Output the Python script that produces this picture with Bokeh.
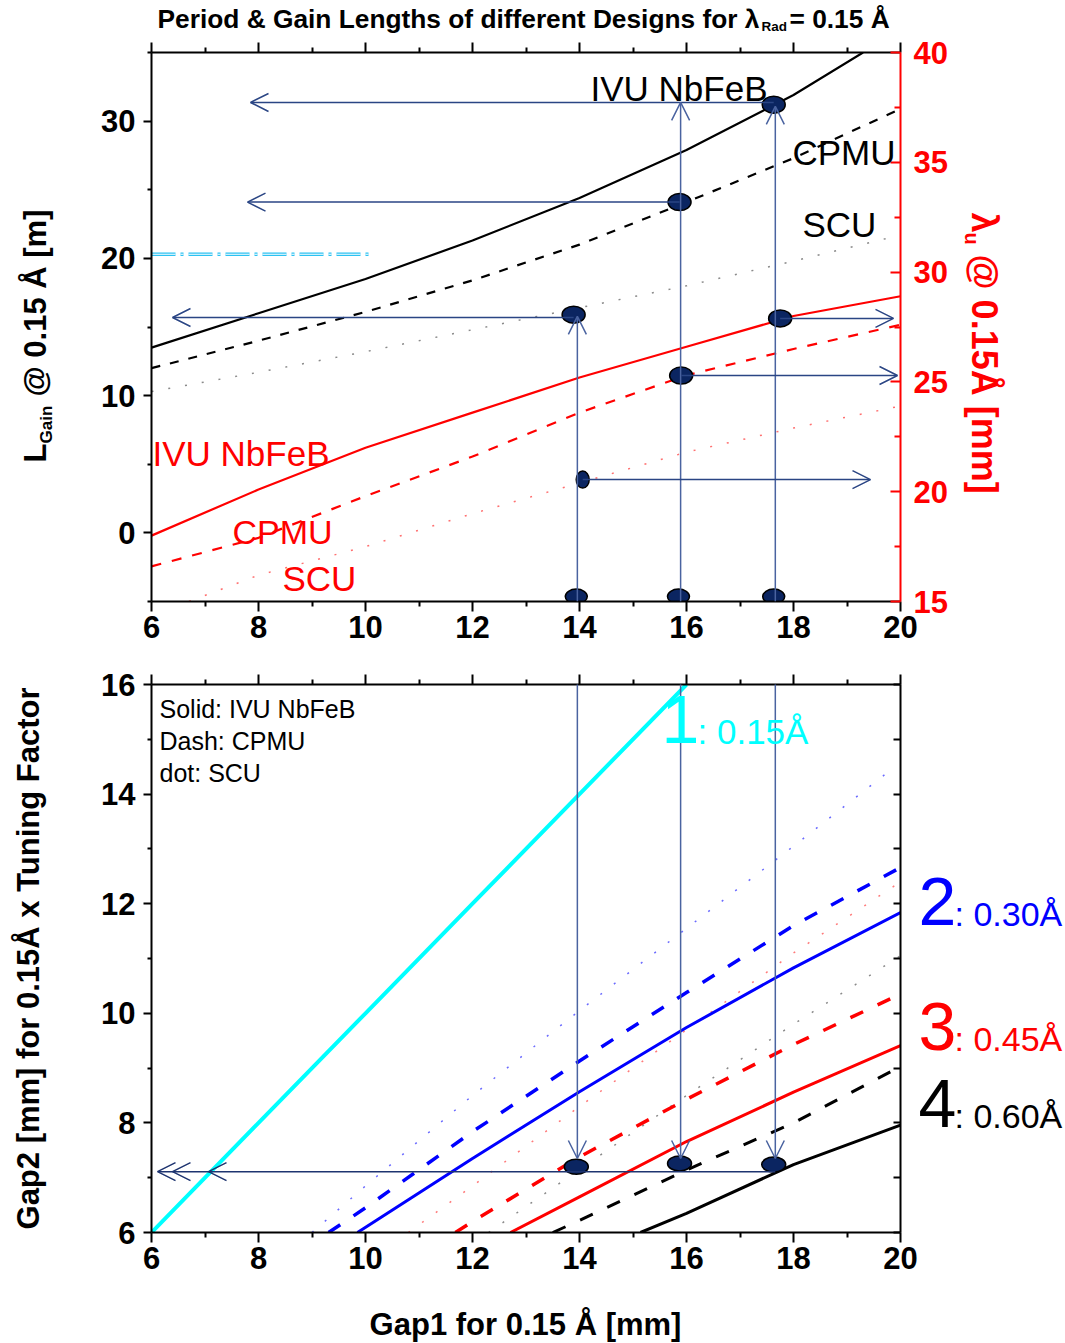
import math
from bokeh.plotting import figure
from bokeh.models import Range1d, LinearAxis, FixedTicker, Label, Arrow, OpenHead
from bokeh.layouts import column, row
from bokeh.embed import file_html
from bokeh.resources import INLINE

FONT = "Liberation Sans"

# ---------------- data: top panel (gain length, left axis) ----------------
gap1_top = [6, 8, 10, 12, 14, 16, 18, 20]
lgain_ivu_x = [6, 8, 10, 12, 14, 16, 18, 19.3]
lgain_ivu = [13.5, 16.0, 18.5, 21.3, 24.4, 27.9, 31.9, 35.0]
lgain_cpmu = [12.0, 14.0, 16.1, 18.4, 21.0, 24.1, 27.3, 30.9]
lgain_scu = [10.3, 11.7, 13.2, 14.8, 16.4, 18.0, 19.8, 21.7]
# period (right axis, mm)
lam_ivu = [18.0, 20.1, 22.0, 23.6, 25.2, 26.6, 28.0, 28.9]
lam_cpmu = [16.6, 17.9, 19.8, 21.6, 23.6, 25.3, 26.5, 27.6]
lam_scu_x = [6.7, 8, 10, 12, 14, 16, 18, 20]
lam_scu = [15.0, 16.2, 17.5, 19.0, 20.4, 21.8, 22.9, 23.9]
ref_gain_x = [6, 10.1]
ref_gain_y = [20.3, 20.3]

# design points
pt_gain_x = [17.63, 15.87, 13.89]
pt_gain_y = [31.2, 24.1, 15.9]
pt_lam_x = [17.75, 15.9]
pt_lam_y = [27.89, 25.29]
pt_lam_scu_x = [14.06]
pt_lam_scu_y = [20.55]
pt_gap_x = [13.94, 15.85, 17.63]
pt_gap_y = [-4.64, -4.64, -4.64]

# ---------------- data: bottom panel (Gap2) ----------------
h1_x = [6, 8, 10, 12, 14, 16]
h1_y = [6, 8, 10, 12, 14, 16]
h2s_x = [9.85, 12, 14, 16, 18, 20]
h2s_y = [6.0, 7.35, 8.57, 9.74, 10.83, 11.84]
h2d_x = [9.31, 10, 12, 14, 16, 18, 20]
h2d_y = [6.0, 6.45, 7.84, 9.13, 10.38, 11.60, 12.66]
h2o_x = [9.0, 10, 12, 14, 16, 18, 19.7]
h2o_y = [6.0, 6.85, 8.5, 10.05, 11.55, 13.05, 14.35]
h3s_x = [12.71, 14, 16, 18, 20]
h3s_y = [6.0, 6.65, 7.66, 8.56, 9.41]
h3d_x = [11.68, 12, 14, 16, 18, 20]
h3d_y = [6.0, 6.2, 7.38, 8.43, 9.43, 10.35]
h3o_x = [10.8, 12, 14, 16, 18, 20]
h3o_y = [6.0, 6.85, 8.3, 9.7, 11.1, 12.4]
h4s_x = [15.14, 16, 18, 20]
h4s_y = [6.0, 6.35, 7.24, 7.96]
h4d_x = [13.5, 14, 16, 18, 20]
h4d_y = [6.0, 6.22, 7.14, 8.0, 9.03]
h4o_x = [12.3, 14, 16, 18, 20]
h4o_y = [6.0, 7.15, 8.5, 9.8, 11.05]
pt_gap2_x = [13.94, 15.87, 17.63]
pt_gap2_y = [7.2, 7.26, 7.24]
gap2_target = 7.11

x_ticks = [6, 8, 10, 12, 14, 16, 18, 20]
x_minor = [7, 9, 11, 13, 15, 17, 19]

NAVY = "#0B2561"
ALINE = "#2A4584"
VLINE = "#4A63A0"
MID = 0.347  # distance (in em) from the alphabetic baseline up to the em-box middle


# absolute page pixel -> data helpers (for text / annotation placement)
def X(px):
    return 6 + (px - 151) * 14 / 749


def Y1(py):
    return 35 - (py - 52) * 40 / 549


def Y2(py):
    return 16 - (py - 684) * 10 / 548


def ident(v):
    return v


def style_axis(ax, ticks, minor, color="black", t_in=0, t_out=10, m_in=0, m_out=5,
               standoff=4, labels=True):
    ax.ticker = FixedTicker(ticks=ticks, minor_ticks=minor)
    ax.axis_line_color = color
    ax.axis_line_width = 2
    ax.major_tick_line_color = color
    ax.major_tick_line_width = 2
    ax.minor_tick_line_color = color
    ax.minor_tick_line_width = 2
    ax.major_tick_in = t_in
    ax.major_tick_out = t_out
    ax.minor_tick_in = m_in
    ax.minor_tick_out = m_out
    ax.major_label_text_font = FONT
    ax.major_label_text_font_style = "bold"
    ax.major_label_text_color = color
    if labels:
        ax.major_label_text_font_size = "31px"
        ax.major_label_standoff = standoff
    else:
        ax.major_label_text_font_size = "0px"
        ax.major_label_standoff = 0
        ax.major_label_overrides = {t: "" for t in ticks}


def lab(p, px, py, text, size, color="black", bold=False, angle=0.0, align="left",
        xconv=X, yconv=Y1):
    """Place text whose alphabetic baseline starts at page pixel (px, py)."""
    s = MID * size
    ax_ = px - s * math.sin(angle)
    ay_ = py - s * math.cos(angle)
    p.add_layout(Label(x=xconv(ax_), y=yconv(ay_), text=text, text_font=FONT,
                       text_font_size=f"{size}px", text_color=color,
                       text_font_style="bold" if bold else "normal",
                       angle=angle, text_align=align, text_baseline="middle"))


def arrow(p, x0, y0, x1, y1, color=ALINE, head=True, yname="default", size=18):
    p.add_layout(Arrow(x_start=x0, y_start=y0, x_end=x1, y_end=y1, line_color=color,
                       line_width=1.5,
                       end=OpenHead(size=size, line_color=color, line_width=1.5) if head else None,
                       y_range_name=yname))


def text_box(x0, y0, w, h):
    """A bare figure used as a text area; data units = absolute page pixels."""
    f = figure(frame_width=w, frame_height=h, x_range=Range1d(x0, x0 + w),
               y_range=Range1d(y0 + h, y0),
               output_backend="svg", toolbar_location=None,
               x_axis_location=None, y_axis_location=None, min_border=0,
               frame_align=False)
    f.title = None
    f.outline_line_color = None
    f.background_fill_color = "white"
    f.border_fill_color = "white"
    f.grid.visible = False
    return f


def new_panel(w, h, yr, left, right, top, bottom):
    p = figure(width=w, height=h, x_range=Range1d(6, 20), y_range=yr,
               output_backend="svg", toolbar_location=None,
               min_border_left=left, min_border_right=right,
               min_border_top=top, min_border_bottom=bottom)
    p.title = None
    p.outline_line_color = None
    p.xgrid.visible = False
    p.ygrid.visible = False
    p.background_fill_color = "white"
    p.border_fill_color = "white"
    return p


# =================== title strip ===================
T = text_box(0, 0, 1064, 34)
lab(T, 157, 28, "Period & Gain Lengths of different Designs for λ", 26.3, bold=True,
    xconv=ident, yconv=ident)
lab(T, 761, 31, "Rad", 13.5, bold=True, xconv=ident, yconv=ident)
lab(T, 789, 28, "= 0.15 Å", 26.3, bold=True, xconv=ident, yconv=ident)

# =================== top panel ===================
L1 = text_box(0, 34, 60, 632)
p1 = new_panel(900, 632, Range1d(-5, 35), left=91, right=60, top=18, bottom=65)
R1 = text_box(960, 34, 104, 632)
p1.extra_y_ranges = {"lam": Range1d(15, 40)}

style_axis(p1.xaxis[0], x_ticks, x_minor, t_out=10, m_out=5, standoff=4)
style_axis(p1.yaxis[0], [0, 10, 20, 30], [-5, 5, 15, 25, 35], t_out=8, m_out=4, standoff=8)
top1 = LinearAxis()
style_axis(top1, x_ticks, x_minor, t_out=10, m_out=5, labels=False)
p1.add_layout(top1, "above")
right1 = LinearAxis(y_range_name="lam")
style_axis(right1, [15, 20, 25, 30, 35, 40], [17.5, 22.5, 27.5, 32.5, 37.5], color="#FF0000",
           t_in=10, t_out=0, m_in=6, m_out=0, standoff=13)
p1.add_layout(right1, "right")

# reference gain line (double dash-dot)
p1.line(ref_gain_x, ref_gain_y, line_color="#2CC2F2", line_width=3.5, line_dash="24 5 3 5")
p1.line(ref_gain_x, ref_gain_y, line_color="white", line_width=1.2, line_dash="24 5 3 5")

p1.line(lgain_ivu_x, lgain_ivu, line_color="black", line_width=2.2)
p1.line(gap1_top, lgain_cpmu, line_color="black", line_width=2.2, line_dash="9 10")
p1.line(gap1_top, lgain_scu, line_color="#8a8a8a", line_width=1.5, line_dash="2 15")
p1.line(gap1_top, lam_ivu, line_color="#FF0000", line_width=2.2, y_range_name="lam")
p1.line(gap1_top, lam_cpmu, line_color="#FF0000", line_width=2.2, line_dash="10 11", y_range_name="lam")
p1.line(lam_scu_x, lam_scu, line_color="#FF7070", line_width=1.5, line_dash="2 15", y_range_name="lam")

# arrows: leftwards to gain axis
arrow(p1, pt_gain_x[0], 31.36, X(250), 31.36)
arrow(p1, pt_gain_x[1], pt_gain_y[1], X(247), pt_gain_y[1])
arrow(p1, pt_gain_x[2], 15.69, X(172), 15.69)
# vertical lines up from the gap axis
arrow(p1, 13.96, -5, 13.96, 15.77, color=VLINE)
arrow(p1, 15.89, -5, 15.89, 31.36, color=VLINE)
arrow(p1, 17.66, -5, 17.66, 31.07, color=VLINE)
# arrows: rightwards to period axis
arrow(p1, pt_lam_x[0], pt_lam_y[0], X(893), pt_lam_y[0], yname="lam")
arrow(p1, pt_lam_x[1], pt_lam_y[1], X(897), pt_lam_y[1], yname="lam")
arrow(p1, pt_lam_scu_x[0], pt_lam_scu_y[0], X(870), pt_lam_scu_y[0], yname="lam")

# design points
p1.ellipse(pt_gain_x, pt_gain_y, width=23, height=17, width_units="screen", height_units="screen",
           fill_color=NAVY, line_color="black", line_width=1.5)
p1.ellipse(pt_lam_x, pt_lam_y, width=23, height=17, width_units="screen", height_units="screen",
           fill_color=NAVY, line_color="black", line_width=1.5, y_range_name="lam")
p1.ellipse(pt_lam_scu_x, pt_lam_scu_y, width=13, height=17, width_units="screen", height_units="screen",
           fill_color=NAVY, line_color="black", line_width=1.5, y_range_name="lam")
p1.ellipse(pt_gap_x, pt_gap_y, width=22, height=15, width_units="screen", height_units="screen",
           fill_color=NAVY, line_color="black", line_width=1.5)

# curve labels
lab(p1, 590, 100, "IVU NbFeB", 35)
lab(p1, 792, 164, "CPMU", 35)
lab(p1, 802, 236, "SCU", 35)
lab(p1, 152, 465, "IVU NbFeB", 35, color="#FF0000")
lab(p1, 232, 543, "CPMU", 34, color="#FF0000")
lab(p1, 282, 590, "SCU", 35, color="#FF0000")

# left axis title (rotated, with subscript)
lab(L1, 46, 462, "L", 31, bold=True, angle=math.pi / 2, xconv=ident, yconv=ident)
lab(L1, 52, 443, "Gain", 17, bold=True, angle=math.pi / 2, xconv=ident, yconv=ident)
lab(L1, 46, 396, "@ 0.15 Å [m]", 31, bold=True, angle=math.pi / 2, xconv=ident, yconv=ident)

# right axis title (rotated clockwise, with subscript)
lab(R1, 972, 212, "λ", 36, color="#FF0000", bold=True, angle=-math.pi / 2, xconv=ident, yconv=ident)
lab(R1, 965, 232, "u", 20, color="#FF0000", bold=True, angle=-math.pi / 2, xconv=ident, yconv=ident)
lab(R1, 972, 254, "@ 0.15Å [mm]", 36, color="#FF0000", bold=True, angle=-math.pi / 2,
    xconv=ident, yconv=ident)

# =================== bottom panel ===================
p2 = new_panel(918, 634, Range1d(6, 16), left=151, right=18, top=18, bottom=68)
R2 = text_box(918, 666, 146, 634)
B = text_box(0, 1300, 1064, 43)

style_axis(p2.xaxis[0], x_ticks, x_minor, t_out=10, m_out=5, standoff=4)
style_axis(p2.yaxis[0], [6, 8, 10, 12, 14, 16], [7, 9, 11, 13, 15], t_out=8, m_out=4, standoff=8)
ya = p2.yaxis[0]
ya.axis_label = "Gap2 [mm] for 0.15Å x Tuning Factor"
ya.axis_label_text_font = FONT
ya.axis_label_text_font_style = "bold"
ya.axis_label_text_font_size = "31px"
ya.axis_label_text_color = "black"
ya.axis_label_standoff = 52
top2 = LinearAxis()
style_axis(top2, x_ticks, x_minor, t_out=10, m_out=5, labels=False)
p2.add_layout(top2, "above")
right2 = LinearAxis()
style_axis(right2, [6, 7, 8, 9, 10, 11, 12, 13, 14, 15, 16], [], t_in=7, t_out=0, labels=False)
p2.add_layout(right2, "right")

DOT = "2 15"
p2.line(h2o_x, h2o_y, line_color="#6A6AFF", line_width=1.5, line_dash=DOT)
p2.line(h3o_x, h3o_y, line_color="#FF7A7A", line_width=1.5, line_dash=DOT)
p2.line(h4o_x, h4o_y, line_color="#8a8a8a", line_width=1.5, line_dash=DOT)
p2.line(h1_x, h1_y, line_color="#00FFFF", line_width=4)
p2.line(h2s_x, h2s_y, line_color="#0000FF", line_width=3)
p2.line(h2d_x, h2d_y, line_color="#0000FF", line_width=3.5, line_dash="14 16")
p2.line(h3s_x, h3s_y, line_color="#FF0000", line_width=3)
p2.line(h3d_x, h3d_y, line_color="#FF0000", line_width=3.5, line_dash="14 16")
p2.line(h4s_x, h4s_y, line_color="black", line_width=3)
p2.line(h4d_x, h4d_y, line_color="black", line_width=3, line_dash="14 16")

# vertical arrows down to the Gap2 points
for xv in (13.96, 15.89, 17.66):
    arrow(p2, xv, 16.2, xv, 7.35, color=VLINE)
# horizontal arrow to the gap2 axis
arrow(p2, 17.66, gap2_target, X(157), gap2_target, color="#1E3470")
arrow(p2, X(175), gap2_target, X(172), gap2_target, color="#1E3470")
arrow(p2, X(211), gap2_target, X(208), gap2_target, color="#1E3470")

p2.ellipse(pt_gap2_x, pt_gap2_y, width=24, height=15, width_units="screen", height_units="screen",
           fill_color=NAVY, line_color="black", line_width=1.5)

# legend text
lab(p2, 159, 717, "Solid: IVU NbFeB", 25, yconv=Y2)
lab(p2, 159, 749, "Dash: CPMU", 25, yconv=Y2)
lab(p2, 159, 781, "dot: SCU", 25, yconv=Y2)

# harmonic labels
lab(p2, 661, 743, "1", 68, color="#00FFFF", yconv=Y2)
lab(p2, 697, 743, ": 0.15Å", 35, color="#00FFFF", yconv=Y2)
for big, small, col, base in (("2", ": 0.30Å", "#0000FF", 925),
                              ("3", ": 0.45Å", "#FF0000", 1050),
                              ("4", ": 0.60Å", "black", 1127)):
    lab(R2, 918, base, big, 68, color=col, xconv=ident, yconv=ident)
    lab(R2, 954, base, small, 34, color=col, xconv=ident, yconv=ident)

# bottom axis title
lab(B, 525, 1335, "Gap1 for 0.15 Å [mm]", 31, bold=True, align="center", xconv=ident, yconv=ident)

layout = column(T, row(L1, p1, R1), row(p2, R2), B)
open("out.html", "w").write(file_html(layout, INLINE))
